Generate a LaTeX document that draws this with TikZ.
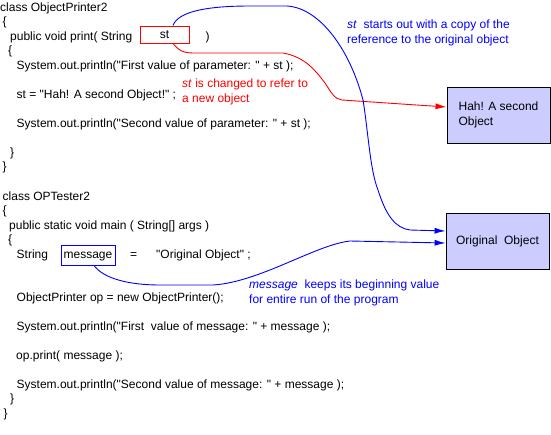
\documentclass[tikz,border=0pt]{standalone}
\usepackage{fontspec}
\setmainfont{Liberation Sans}[Ligatures=TeXOff]
\usetikzlibrary{arrows.meta}
\definecolor{objfill}{HTML}{CCCCFF}
\tikzset{
  codeline/.style={anchor=base west, inner sep=0pt, font=\fontsize{12}{15}\selectfont},
  rednote/.style={codeline, text=red},
  bluenote/.style={codeline, text=blue},
  varbox/.style={draw=#1, line width=1pt, inner sep=0pt, text=black, font=\fontsize{12}{15}\selectfont},
  objbox/.style={draw=black, fill=objfill, line width=0.9pt, minimum width=103pt, minimum height=56pt, align=left, font=\fontsize{12}{15}\selectfont},
  redlink/.style={red, line width=0.9pt, -{Latex[length=11pt,width=6pt]}},
  bluelink/.style={blue, line width=0.9pt, -{Latex[length=11pt,width=6pt]}}
}
\begin{document}
\begin{tikzpicture}[x=1pt,y=-1pt]
	\useasboundingbox (0,0) rectangle (551,434);
	
	\node[codeline] (cls1) at (0,11) {class ObjectPrinter2};
	\node[codeline] (ob1) at (2.5,25.5) {\{};
	\node[codeline] (sig1) at (10,40) {public void print( String};
	\node[varbox=red, minimum width=49pt, minimum height=17pt] (st) at (164.5,34.5) {st};
	\node[codeline] (cp1) at (205.5,40) {)};
	\node[codeline] (ob2) at (8,54.5) {\{};
	\node[codeline] (pr1) at (16.5,69) {System.out.println("First value of parameter: " + st );};
	\node[codeline] (asg) at (16.5,98) {st = "Hah! A second Object!" ;};
	\node[codeline] (pr2) at (16.5,127) {System.out.println("Second value of parameter: " + st );};
	\node[codeline] (cb2) at (10,156) {\}};
	\node[codeline] (cb1) at (2.5,170.5) {\}};
	
	\node[codeline] (cls2) at (2.5,200) {class OPTester2};
	\node[codeline] (ob3) at (2.5,214.5) {\{};
	\node[codeline] (sig2) at (9,229) {public static void main ( String[] args )};
	\node[codeline] (ob4) at (8,243.5) {\{};
	\node[codeline] (decl) at (16.5,258) {String};
	\node[varbox=blue, minimum width=54pt, minimum height=20pt, text depth=0pt] (msg) at (88,255) {message};
	\node[codeline] (eq) at (130,258) {=};
	\node[codeline] (init) at (156,258) {"Original Object" ;};
	\node[codeline] (newop) at (16.5,301) {ObjectPrinter op = new ObjectPrinter();};
	\node[codeline] (pr3) at (16.5,330) {System.out.println("First\ \ value of message: " + message );};
	\node[codeline] (call) at (16,359) {op.print( message );};
	\node[codeline] (pr4) at (16.5,388) {System.out.println("Second value of message: " + message );};
	\node[codeline] (cb4) at (10,402.5) {\}};
	\node[codeline] (cb3) at (3.5,417) {\}};
	
	\node[objbox] (hah) at (498.5,115) {Hah! A second\\Object};
	\node[objbox, align=center] (orig) at (497.5,241) {Original\ \ Object};
	
	\node[rednote] (chg1) at (182,87) {\textit{st} is changed to refer to};
	\node[rednote] (chg2) at (182,102) {a new object};
	\node[bluenote] (copy1) at (347,28) {\textit{st}\ \ starts out with a copy of the};
	\node[bluenote] (copy2) at (347,43) {reference to the original object};
	\node[bluenote] (keep1) at (249,288) {\textit{message}\ \ keeps its beginning value};
	\node[bluenote] (keep2) at (249,303) {for entire run of the program};
	
	\draw[redlink] ([xshift=8.5pt]st.south) .. controls (180,52) and (185,53) .. (195,53) -- (283,53) .. controls (305,57) and (315,70) .. (325,83) .. controls (332,94) and (335,99) .. (342,100) -- ([yshift=8pt]hah.west);
	\draw[bluelink] ([xshift=8.5pt]st.north) .. controls (178,12) and (205,6) .. (250,6) -- (287,6) .. controls (320,8) and (350,50) .. (363,100) .. controls (368,130) and (370,170) .. (378,190) .. controls (386,215) and (395,228) .. (410,230) -- ([yshift=10pt]orig.west);
	\draw[bluelink] ([xshift=6pt]msg.south) .. controls (104,279) and (130,285) .. (160,285) -- (213,285) .. controls (260,282) and (315,245) .. (350,241) -- ([yshift=-2pt]orig.west);
\end{tikzpicture}
\end{document}
